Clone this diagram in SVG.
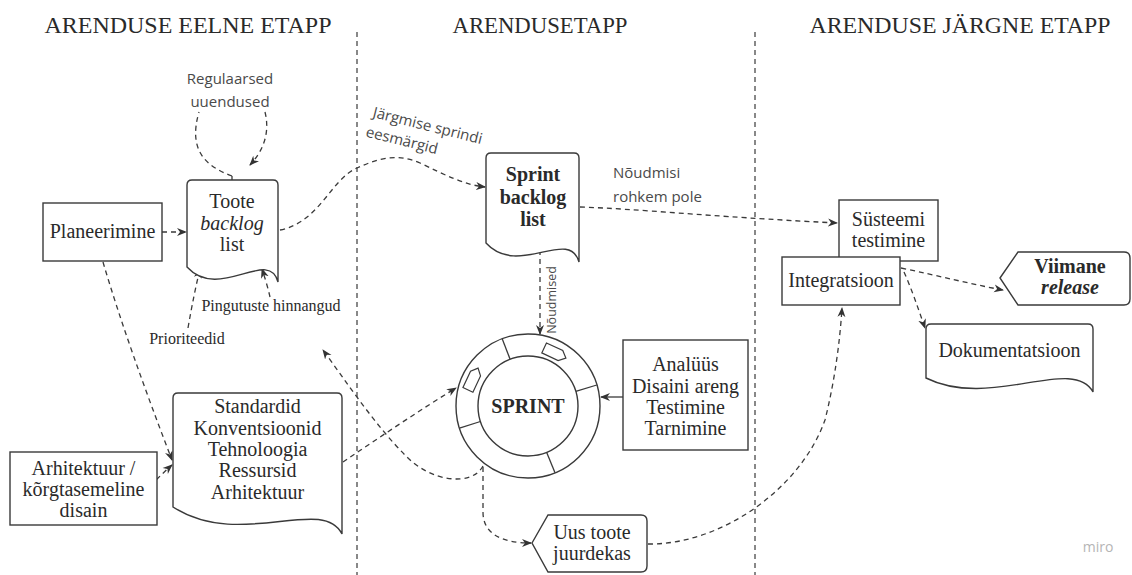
<svg xmlns="http://www.w3.org/2000/svg" width="1132" height="575" viewBox="0 0 1132 575">
<style>
.bg{fill:#fff}
.box{fill:#fff;stroke:#3a3a3a;stroke-width:1.4}
.t{font-family:"Liberation Serif","Times New Roman",serif;font-size:20px;fill:#2a2a2a;text-anchor:middle}
.h{font-family:"Liberation Serif","Times New Roman",serif;font-size:24px;fill:#2a2a2a;text-anchor:middle}
.s{font-family:"Liberation Serif","Times New Roman",serif;font-size:16px;fill:#2a2a2a}
.sans{font-family:"Open Sans","Noto Sans",sans-serif;font-size:15px;fill:#4a4a4a}
.b{font-weight:bold}
.i{font-style:italic}
.conn path,.conn line{fill:none;stroke:#3a3a3a;stroke-width:1.3;stroke-dasharray:5 4}
.conn .solid{stroke-dasharray:none}
.div line{stroke:#3a3a3a;stroke-width:1.2;stroke-dasharray:5 4}
</style>
<defs>
<marker id="ah" viewBox="0 0 10 10" refX="9" refY="5" markerWidth="10" markerHeight="10" markerUnits="userSpaceOnUse" orient="auto">
<path d="M0,1 L10,5 L0,9 L3,5 z" fill="#333"/>
</marker>
</defs>
<rect class="bg" x="0" y="0" width="1132" height="575"/>

<g id="phases">
<text class="h" x="188" y="33" textLength="287" lengthAdjust="spacingAndGlyphs">ARENDUSE EELNE ETAPP</text>
<text class="h" x="540" y="33" textLength="175" lengthAdjust="spacingAndGlyphs">ARENDUSETAPP</text>
<text class="h" x="960" y="33" textLength="301" lengthAdjust="spacingAndGlyphs">ARENDUSE JÄRGNE ETAPP</text>
<g class="div">
<line x1="357" y1="32" x2="357" y2="575"/>
<line x1="755" y1="32" x2="755" y2="575"/>
</g>
</g>

<g class="conn" id="connectors">
<path class="solid" d="M232,180 L232,176"/>
<path d="M232,176 C205,166 188,150 199,112"/>
<path d="M265,112 C270,132 264,150 250,165" marker-end="url(#ah)"/>
<path d="M162,232 L186,232" marker-end="url(#ah)"/>
<path d="M188,328 C192,305 196,285 200,269" marker-end="url(#ah)"/>
<path d="M270,297 C268,288 265,278 262,269" marker-end="url(#ah)"/>
<path d="M280,230 C320,222 330,180 357,168 C375,160 395,152 420,163 C445,175 465,185 485,187" marker-end="url(#ah)"/>
<path d="M580,207 C640,209 700,216 837,223" marker-end="url(#ah)"/>
<path d="M540,250 L540,334" marker-end="url(#ah)"/>
<path d="M103,262 C120,320 145,390 172,460" marker-end="url(#ah)"/>
<path d="M150,486 C158,478 164,472 172,465" marker-end="url(#ah)"/>
<path d="M343,462 C380,437 420,410 456,388" marker-end="url(#ah)"/>
<path d="M483,466 C472,487 430,482 405,455 C375,425 345,380 323,350" marker-end="url(#ah)"/>
<path d="M483,467 L483,512 C483,533 500,543 531,543" marker-end="url(#ah)"/>
<path class="solid" d="M623,397 L601,397" marker-end="url(#ah)"/>
<path d="M648,544 C720,545 800,490 825,420 C835,380 840,340 842,308" marker-end="url(#ah)"/>
<path d="M901,268 C940,276 970,284 1003,290" marker-end="url(#ah)"/>
<path d="M904,272 C912,290 918,308 925,328" marker-end="url(#ah)"/>
</g>

<g id="labels">
<text class="sans" x="230" y="84" text-anchor="middle">Regulaarsed</text>
<text class="sans" x="230" y="107" text-anchor="middle">uuendused</text>
<text class="s" x="187" y="344" text-anchor="middle">Prioriteedid</text>
<text class="s" x="271" y="311" text-anchor="middle">Pingutuste hinnangud</text>
<g transform="translate(372,117) rotate(14)">
<text class="sans" x="0" y="0">Järgmise sprindi</text>
<text class="sans" x="-2" y="20.5">eesmärgid</text>
</g>
<text class="sans" x="613" y="178">Nõudmisi</text>
<text class="sans" x="613" y="202">rohkem pole</text>
<text class="sans" transform="translate(556,300) rotate(-90)" text-anchor="middle" style="font-size:12.5px">Nõudmised</text>
</g>

<g id="planeerimine">
<rect class="box" x="43" y="203" width="119" height="58"/>
<text class="t" x="102.5" y="238">Planeerimine</text>
</g>

<g id="toote-backlog">
<path class="box" d="M192,180 H273 Q278,180 278,185 V282 C269,247 219,302 187,267 V185 Q187,180 192,180 Z"/>
<text class="t" x="232" y="208">Toote</text>
<text class="t i" x="232" y="230">backlog</text>
<text class="t" x="232" y="251">list</text>
</g>

<g id="sprint-backlog">
<path class="box" d="M491,153 H574 Q579,153 579,158 V262 C569,227 518,278 486,243 V158 Q486,153 491,153 Z"/>
<text class="t b" x="533" y="181">Sprint</text>
<text class="t b" x="533" y="203.5">backlog</text>
<text class="t b" x="533" y="226">list</text>
</g>

<g id="arhitektuur">
<rect class="box" x="10" y="452" width="147" height="73"/>
<text class="t" x="83.5" y="475">Arhitektuur /</text>
<text class="t" x="83.5" y="496">kõrgtasemeline</text>
<text class="t" x="83.5" y="517">disain</text>
</g>

<g id="standardid">
<path class="box" d="M178,393 H337 Q342,393 342,398 V534 C322,495 240,550 173,507 V398 Q173,393 178,393 Z"/>
<text class="t" x="257.5" y="413">Standardid</text>
<text class="t" x="257.5" y="434.5">Konventsioonid</text>
<text class="t" x="257.5" y="456">Tehnoloogia</text>
<text class="t" x="257.5" y="477">Ressursid</text>
<text class="t" x="257.5" y="498.5">Arhitektuur</text>
</g>

<g id="sprint">
<circle class="box" cx="528" cy="406" r="72"/>
<circle class="box" cx="528" cy="406" r="50"/>
<g stroke="#3a3a3a" stroke-width="1.3">
<line x1="510.1" y1="359.3" x2="502.2" y2="338.8"/>
<line x1="575.8" y1="391.4" x2="596.8" y2="385.0"/>
<line x1="546.7" y1="452.4" x2="555.0" y2="472.8"/>
<line x1="480.4" y1="421.5" x2="459.5" y2="428.2"/>
</g>
<polygon class="box" points="-12,-5.5 6,-5.5 12,0 6,5.5 -12,5.5" transform="translate(555,353) rotate(25)" style="stroke-width:1.2"/>
<polygon class="box" points="-12,-5.5 6,-5.5 12,0 6,5.5 -12,5.5" transform="translate(473,379) rotate(-65)" style="stroke-width:1.2"/>
<text class="t b" x="528" y="413">SPRINT</text>
</g>

<g id="analyys">
<rect class="box" x="623" y="340" width="125" height="110"/>
<text class="t" x="685.5" y="371">Analüüs</text>
<text class="t" x="685.5" y="392.5">Disaini areng</text>
<text class="t" x="685.5" y="414">Testimine</text>
<text class="t" x="685.5" y="435">Tarnimine</text>
</g>

<g id="uus-toote">
<path class="box" d="M532,543 L548,515 H641 Q647,515 647,521 V566 Q647,572 641,572 H548 Z"/>
<text class="t" x="592" y="539">Uus toote</text>
<text class="t" x="592" y="560">juurdekas</text>
</g>

<g id="susteemi">
<rect class="box" x="839" y="200" width="99" height="61"/>
<text class="t" x="888.5" y="226">Süsteemi</text>
<text class="t" x="888.5" y="247">testimine</text>
</g>

<g id="integratsioon">
<rect class="box" x="782" y="257" width="118" height="48"/>
<text class="t" x="841" y="287">Integratsioon</text>
</g>

<g id="viimane">
<path class="box" d="M1000,278 L1018,252 H1124 Q1130,252 1130,258 V299 Q1130,305 1124,305 H1018 Z"/>
<text class="t b" x="1070" y="273">Viimane</text>
<text class="t b i" x="1070" y="294">release</text>
</g>

<g id="dokumentatsioon">
<path class="box" d="M931,324 H1088 Q1093,324 1093,329 V392 C1073,355 990,410 926,378 V329 Q926,324 931,324 Z"/>
<text class="t" x="1009.5" y="357">Dokumentatsioon</text>
</g>

<text x="1098" y="552" text-anchor="middle" style="font-family:'Open Sans','Noto Sans',sans-serif;font-size:14px;fill:#b5b5b5">miro</text>
</svg>
